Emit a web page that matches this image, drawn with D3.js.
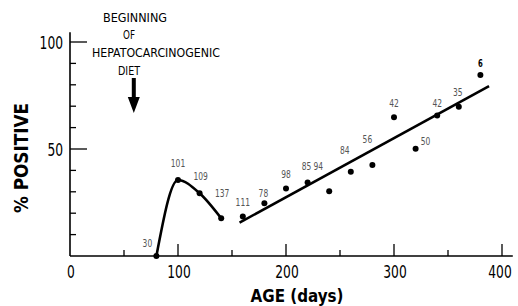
<!DOCTYPE html>
<html lang="en">
  <head>
    <meta charset="UTF-8" />
    <title>% positive vs age</title>
    <style>
      body {
        margin: 0;
        background: #fff;
        overflow: hidden;
      }
      svg text {
        font-family: "DejaVu Sans Condensed", "Liberation Sans Narrow", sans-serif;
      }
    </style>
  </head>
  <body>
    <div id="chart"></div>
    <script src="https://cdnjs.cloudflare.com/ajax/libs/d3/7.8.5/d3.min.js"></script>
    <script>
      // ages in days, % positive, and number of animals written above each point
      var ages = [80, 100, 120, 140, 160, 180, 200, 220, 240, 260, 280, 300, 320, 340, 360, 380];
      var pctPositive = [0, 35.5, 29.3, 17.6, 18.4, 24.6, 31.6, 34.3, 30.2, 39.4, 42.5, 64.8, 50.1, 65.7, 69.8, 84.6];
      var counts = ["30", "101", "109", "137", "111", "78", "98", "85", "94", "84", "56", "42", "50", "42", "35", "6"];

      // the early peak is joined by a curve, the rest by a fitted line
      var curveAges = [80, 100, 120, 140];
      var curvePct = [0, 35.5, 29.3, 17.6];
      var fitAges = [157, 388];
      var fitPct = [15.6, 79.4];

      var xTicks = [0, 100, 200, 300, 400];
      var yTicks = [50, 100];
      var dietStart = 60;
      var noteLines = ["BEGINNING", "OF", "HEPATOCARCINOGENIC", "DIET"];

      var width = 518,
        height = 306;

      var x = d3.scaleLinear().domain([0, 400]).range([70, 502]);
      var y = d3.scaleLinear().domain([0, 100]).range([256, 42]);

      var svg = d3
        .select("#chart")
        .append("svg")
        .attr("width", width)
        .attr("height", height)
        .style("display", "block");

      //axes
      svg
        .append("line")
        .attr("x1", x(0))
        .attr("x2", x(410))
        .attr("y1", y(0))
        .attr("y2", y(0))
        .attr("stroke", "#000")
        .attr("stroke-width", 1.6);
      svg
        .append("line")
        .attr("x1", x(0))
        .attr("x2", x(0))
        .attr("y1", y(0))
        .attr("y2", y(104.5))
        .attr("stroke", "#000")
        .attr("stroke-width", 1.6);

      var xAll = d3.range(50, 401, 50);
      svg
        .selectAll(".xtick")
        .data(xAll)
        .enter()
        .append("line")
        .attr("x1", function (d) { return x(d); })
        .attr("x2", function (d) { return x(d); })
        .attr("y1", y(0))
        .attr("y2", function (d) { return y(0) - (d % 100 ? 6 : 12); })
        .attr("stroke", "#000")
        .attr("stroke-width", 1.3);

      var yAll = d3.range(10, 101, 10);
      svg
        .selectAll(".ytick")
        .data(yAll)
        .enter()
        .append("line")
        .attr("x1", x(0))
        .attr("x2", function (d) { return x(0) + (d % 50 ? 6 : 17); })
        .attr("y1", function (d) { return y(d); })
        .attr("y2", function (d) { return y(d); })
        .attr("stroke", "#000")
        .attr("stroke-width", 1.3);

      svg
        .selectAll(".xlab")
        .data(xTicks)
        .enter()
        .append("text")
        .attr("x", function (d) { return d == 400 ? x(d) - 2 : x(d) + 1; })
        .attr("y", 278)
        .attr("text-anchor", "middle")
        .attr("font-size", 17)
        .attr("textLength", function (d) { return String(d).length * 7.8; })
        .attr("lengthAdjust", "spacingAndGlyphs")
        .text(function (d) { return d; });

      svg
        .selectAll(".ylab")
        .data(yTicks)
        .enter()
        .append("text")
        .attr("x", 63)
        .attr("y", function (d) { return y(d) + 7; })
        .attr("text-anchor", "end")
        .attr("font-size", 17)
        .attr("textLength", function (d) { return String(d).length * 7.8; })
        .attr("lengthAdjust", "spacingAndGlyphs")
        .text(function (d) { return d; });

      //axis titles
      svg
        .append("text")
        .attr("x", 297)
        .attr("y", 302)
        .attr("text-anchor", "middle")
        .attr("font-size", 17)
        .attr("font-weight", "bold")
        .attr("textLength", 93)
        .attr("lengthAdjust", "spacingAndGlyphs")
        .text("AGE (days)");

      svg
        .append("text")
        .attr("transform", "translate(28,158) rotate(-90)")
        .attr("text-anchor", "middle")
        .attr("font-size", 19)
        .attr("font-weight", "bold")
        .attr("textLength", 110)
        .attr("lengthAdjust", "spacingAndGlyphs")
        .text("% POSITIVE");

      //note about the diet
      var noteX = [135, 129, 156, 129];
      var noteY = [22, 39, 57, 75];
      var noteW = [64, 12, 128, 22];
      svg
        .selectAll(".note")
        .data(noteLines)
        .enter()
        .append("text")
        .attr("x", function (d, i) { return noteX[i]; })
        .attr("y", function (d, i) { return noteY[i]; })
        .attr("text-anchor", "middle")
        .attr("font-size", 12)
        .attr("textLength", function (d, i) { return noteW[i]; })
        .attr("lengthAdjust", "spacingAndGlyphs")
        .text(function (d) { return d; });

      var ax = x(dietStart) - 1;
      svg
        .append("path")
        .attr(
          "d",
          "M" + (ax - 2) + ",78 L" + (ax + 2) + ",78 L" + (ax + 2) + ",97 L" + (ax + 6) + ",97 L" +
            ax + ",113 L" + (ax - 6) + ",97 L" + (ax - 2) + ",97 Z"
        )
        .attr("fill", "#000");

      //curve and fitted line
      var curveData = curveAges.map(function (d, i) { return [d, curvePct[i]]; });
      svg
        .append("path")
        .datum(curveData)
        .attr(
          "d",
          d3
            .line()
            .x(function (d) { return x(d[0]); })
            .y(function (d) { return y(d[1]); })
            .curve(d3.curveMonotoneX)
        )
        .attr("fill", "none")
        .attr("stroke", "#000")
        .attr("stroke-width", 2.6);

      svg
        .append("line")
        .attr("x1", x(fitAges[0]))
        .attr("x2", x(fitAges[1]))
        .attr("y1", y(fitPct[0]))
        .attr("y2", y(fitPct[1]))
        .attr("stroke", "#000")
        .attr("stroke-width", 2.6);

      //points
      svg
        .selectAll(".pt")
        .data(ages)
        .enter()
        .append("circle")
        .attr("cx", function (d) { return x(d); })
        .attr("cy", function (d, i) { return y(pctPositive[i]); })
        .attr("r", 3)
        .attr("fill", "#000");

      // where each count sits relative to its point
      var labelDx = [-9, 0, 1, 1, 0, -1, 0, -1, -11, -6, -5, 0, 10, 0, -1, 0];
      var labelDy = [-9, -13, -13, -21, -11, -6, -10, -13, -21, -18, -22, -10, -4, -8, -11, -8];
      svg
        .selectAll(".cnt")
        .data(counts)
        .enter()
        .append("text")
        .attr("x", function (d, i) { return x(ages[i]) + labelDx[i]; })
        .attr("y", function (d, i) { return y(pctPositive[i]) + labelDy[i]; })
        .attr("text-anchor", "middle")
        .attr("font-size", 10)
        .attr("textLength", function (d) { return d.length * 4.8; })
        .attr("lengthAdjust", "spacingAndGlyphs")
        .attr("fill", function (d, i) { return i == counts.length - 1 ? "#000" : "#555"; })
        .attr("font-weight", function (d, i) { return i == counts.length - 1 ? "bold" : "normal"; })
        .text(function (d) { return d; });
    </script>
  </body>
</html>
